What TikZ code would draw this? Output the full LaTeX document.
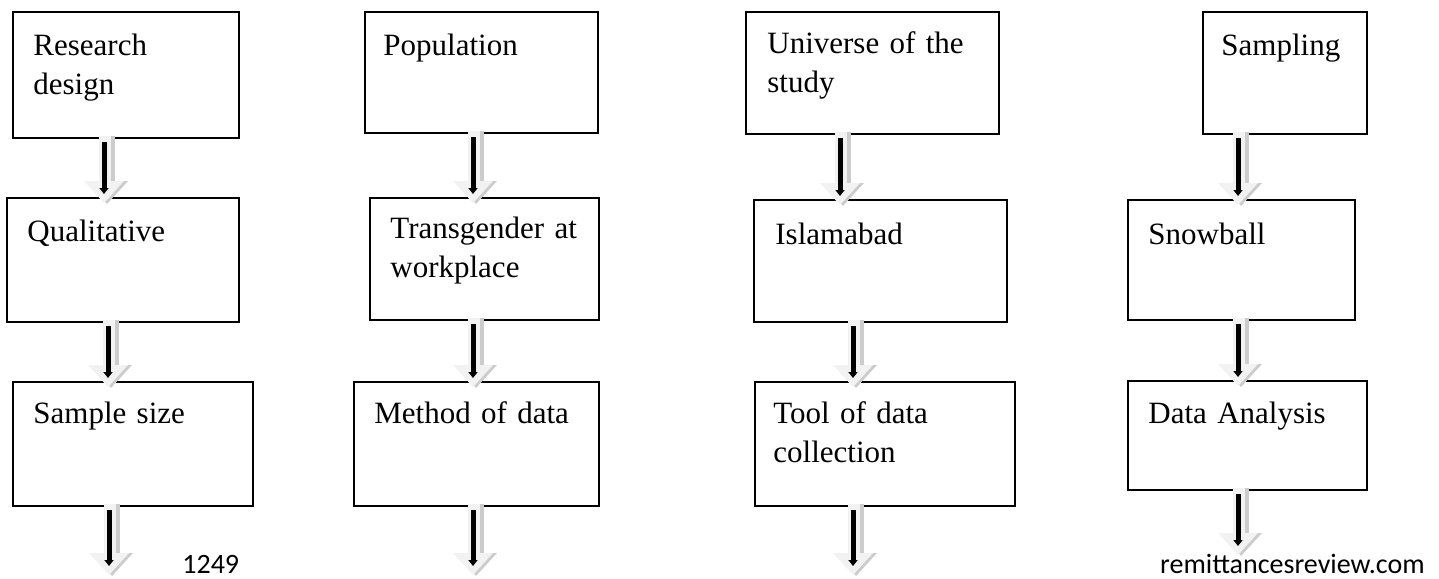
\documentclass[tikz,border=0pt]{standalone}
\usepackage{fontspec}
\setmainfont{Liberation Serif}
\newfontfamily\footfont{Carlito}
\usetikzlibrary{calc,arrows.meta}

\tikzset{
  stagebox/.style={draw, line width=1.2pt, anchor=north west, inner sep=0pt},
  stagetext/.style={anchor=base west, inner sep=0pt, text width=125pt, align=left,
    font=\fontsize{15.5}{19.5}\selectfont},
  footer/.style={inner sep=0pt, font=\footfont\fontsize{14}{16}\selectfont},
  arrowbody/.style={fill=gray!10},
  arrowshade/.style={fill=gray!40},
  arrowcore/.style={line width=2.5pt, -{Triangle[width=4.5pt,length=3pt]}}
}

% block arrow: #1 x position, #2 start, #3 end
\newcommand{\flowarrow}[3]{%
  \path (#2 -| #1,0) ++(0,-3) coordinate (top)
        (#3 -| #1,0) ++(0,6) coordinate (tip);
  \fill[arrowbody] ($(top)+(-5,0)$) rectangle ($(tip)+(7,-22)$);
  \fill[arrowshade] ($(top)+(7,0)$) rectangle ($(tip)+(11,-22)$);
  \fill[arrowshade] ($(tip)+(-16,-22)$) -- ($(tip)+(24,-22)$) -- ($(tip)+(3,1)$) -- cycle;
  \fill[arrowbody] ($(tip)+(-20,-22)$) -- ($(tip)+(20,-22)$) -- (tip) -- cycle;
  \draw[arrowcore] ($(top)+(0,6)$) -- ($(tip)+(0,-9)$);
}

\begin{document}
\begin{tikzpicture}[x=0.5pt, y=-0.5pt]

\useasboundingbox (0,0) rectangle (1439,578);

% column 1
\node[stagebox, minimum width=113pt, minimum height=63pt] (design) at (12,11) {};
\node[stagebox, minimum width=116pt, minimum height=62pt] (qual) at (6,197) {};
\node[stagebox, minimum width=120pt, minimum height=62pt] (size) at (12,381) {};

% column 2
\node[stagebox, minimum width=116.5pt, minimum height=60.5pt] (pop) at (364,11) {};
\node[stagebox, minimum width=114.5pt, minimum height=61pt] (trans) at (369,197) {};
\node[stagebox, minimum width=122.5pt, minimum height=62pt] (method) at (353,381) {};

% column 3
\node[stagebox, minimum width=126.5pt, minimum height=61pt] (univ) at (745,11) {};
\node[stagebox, minimum width=126.5pt, minimum height=61pt] (isb) at (753,199) {};
\node[stagebox, minimum width=130pt, minimum height=62pt] (tool) at (754,381) {};

% column 4
\node[stagebox, minimum width=82pt, minimum height=61pt] (samp) at (1202,11) {};
\node[stagebox, minimum width=113.5pt, minimum height=60pt] (snow) at (1127,199) {};
\node[stagebox, minimum width=119.5pt, minimum height=54.5pt] (analysis) at (1127,380) {};

% box texts
\node[stagetext] (designtext) at ([shift={(21,44)}]design.north west) {Research\\design};
\node[stagetext] (qualtext) at ([shift={(21,44)}]qual.north west) {Qualitative};
\node[stagetext] (sizetext) at ([shift={(21,42)}]size.north west) {Sample size};
\node[stagetext] (poptext) at ([shift={(19,44)}]pop.north west) {Population};
\node[stagetext] (transtext) at ([shift={(21,41)}]trans.north west) {Transgender at\\workplace};
\node[stagetext] (methodtext) at ([shift={(21,42)}]method.north west) {Method of data};
\node[stagetext] (univtext) at ([shift={(22,43)}]univ.north west) {Universe of the\\study};
\node[stagetext] (isbtext) at ([shift={(22,45)}]isb.north west) {Islamabad};
\node[stagetext] (tooltext) at ([shift={(19,42)}]tool.north west) {Tool of data\\collection};
\node[stagetext] (samptext) at ([shift={(19,44)}]samp.north west) {Sampling};
\node[stagetext] (snowtext) at ([shift={(21,45)}]snow.north west) {Snowball};
\node[stagetext] (analysistext) at ([shift={(21,43)}]analysis.north west) {Data Analysis};

% free ends of the last arrows
\coordinate (sizeend) at (0,569);
\coordinate (methodend) at (0,569);
\coordinate (toolend) at (0,569);
\coordinate (analysisend) at (0,549);

\flowarrow{104}{design.south}{qual.north}
\flowarrow{108}{qual.south}{size.north}
\flowarrow{109}{size.south}{sizeend}

\flowarrow{473}{pop.south}{trans.north}
\flowarrow{473}{trans.south}{method.north}
\flowarrow{473}{method.south}{methodend}

\flowarrow{840}{univ.south}{isb.north}
\flowarrow{853}{isb.south}{tool.north}
\flowarrow{853}{tool.south}{toolend}

\flowarrow{1238}{samp.south}{snow.north}
\flowarrow{1238}{snow.south}{analysis.north}
\flowarrow{1238}{analysis.south}{analysisend}

% page footer
\node[footer, anchor=base west] (page) at (182,573) {1249};
\node[footer, anchor=base east] (site) at (1425,573) {remittancesreview.com};

\end{tikzpicture}
\end{document}
